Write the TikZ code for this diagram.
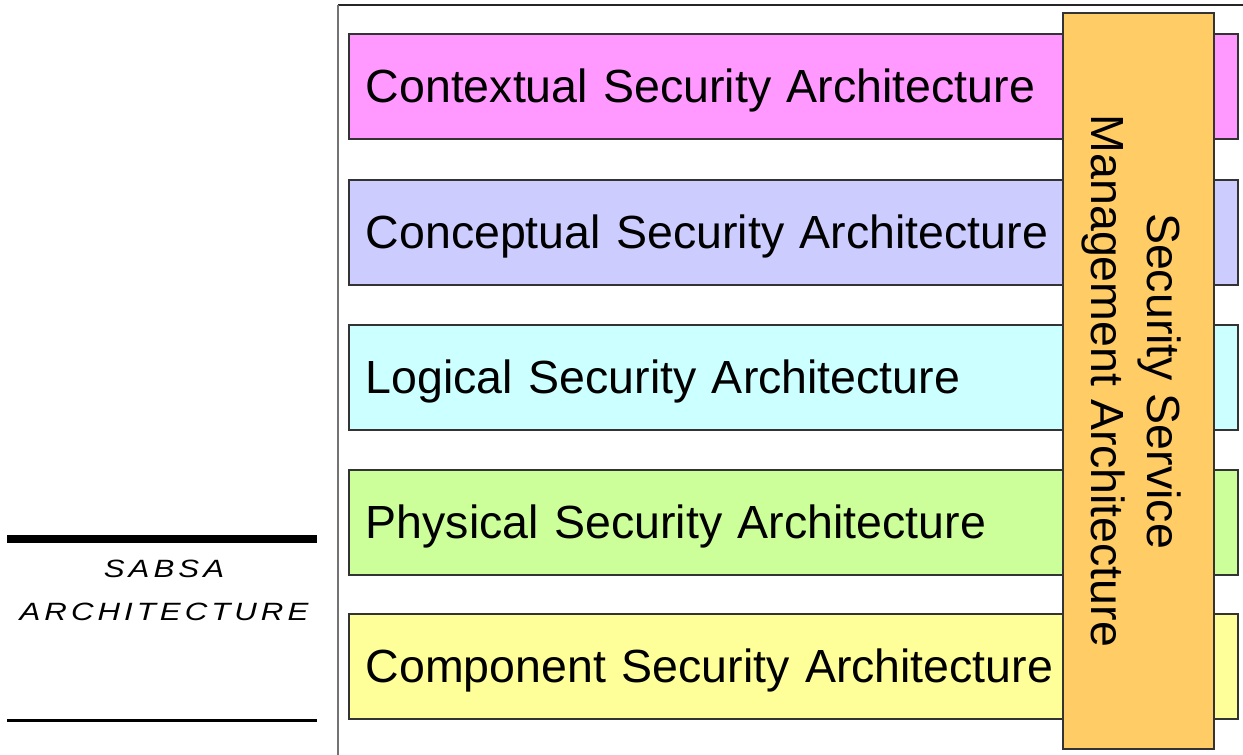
\documentclass[tikz,border=0pt]{standalone}
\usepackage{fontspec}
\setmainfont{Liberation Sans}
\newfontfamily\sabsafont[LetterSpace=16,FakeStretch=1.25]{Liberation Sans}
\definecolor{cctx}{HTML}{FF99FF}
\definecolor{ccon}{HTML}{CCCCFF}
\definecolor{clog}{HTML}{CCFFFF}
\definecolor{cphy}{HTML}{CCFF99}
\definecolor{ccmp}{HTML}{FFFF99}
\definecolor{corg}{HTML}{FFCC66}
\definecolor{cedge}{HTML}{333333}
\tikzset{
  layerbox/.style={draw=cedge, line width=1.5pt, anchor=north west,
    minimum height=105pt, text width=855pt, inner xsep=17pt, inner ysep=0pt,
    align=left, text height=33.3pt, text depth=0pt,
    font=\fontsize{46.5}{56}\selectfont},
  sidebox/.style={draw=cedge, line width=1.5pt, fill=corg, anchor=north west,
    minimum width=151pt, minimum height=736pt, inner sep=0pt},
  sidetext/.style={rotate=-90, align=center, inner sep=0pt,
    font=\fontsize{46.5}{56}\selectfont},
  sabsatext/.style={anchor=base, inner sep=0pt,
    font=\fontsize{25}{43}\selectfont\sabsafont\itshape}
}
\begin{document}
\begin{tikzpicture}[x=1pt, y=-1pt]
\useasboundingbox (0,0) rectangle (1243,755);
% frame lines
\coordinate (fc) at (338,5);
\coordinate (fr) at (1243,5);
\coordinate (fb) at (338,755);
\draw[line width=1.5pt, black!85] (fc) -- (fr);
\draw[line width=1.5pt, black!55] (fc) -- (fb);
% layers
\node[layerbox, fill=cctx] (l1) at (348,33) {Contextual Security Architecture};
\node[layerbox, fill=ccon] (l2) at (348,179) {Conceptual Security Architecture};
\node[layerbox, fill=clog] (l3) at (348,324) {Logical Security Architecture};
\node[layerbox, fill=cphy] (l4) at (348,469) {Physical Security Architecture};
\node[layerbox, fill=ccmp] (l5) at (348,613) {Component Security Architecture};
% side box
\node[sidebox] (ssm) at (1062,12) {};
\node[sidetext] (ssmt) at (1132,381) {Security Service\\Management Architecture};
% left title
\coordinate (ta) at (7,539);
\coordinate (tb) at (317,539);
\coordinate (ba) at (7,720.7);
\coordinate (bb) at (317,720.7);
\draw[line width=7.5pt] (ta) -- (tb);
\draw[line width=2.7pt] (ba) -- (bb);
\node[sabsatext] (sabsa) at (164,577) {SABSA};
\node[sabsatext] (arch) at (164,620) {ARCHITECTURE};
\end{tikzpicture}
\end{document}
